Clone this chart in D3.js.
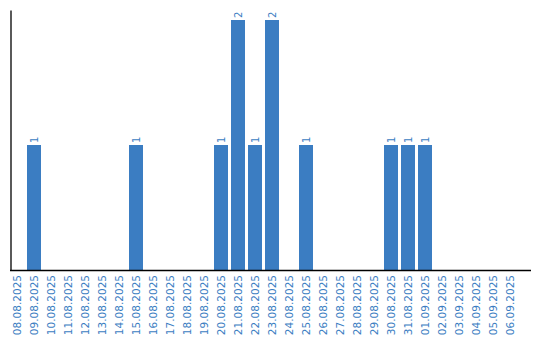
<!DOCTYPE html>
<html>
<head>
<meta charset="utf-8">
<script src="https://cdn.jsdelivr.net/npm/d3@7"></script>
<style>
  body { margin: 0; background: #fff; }
</style>
</head>
<body>
<div class="chart"></div>
<script>
const dims = { width: 540, height: 340 };
const margin = { top: 10, left: 10.5, bottom: 70, right: 9 };

// data
var days = ["08.08.2025","09.08.2025","10.08.2025","11.08.2025","12.08.2025","13.08.2025",
            "14.08.2025","15.08.2025","16.08.2025","17.08.2025","18.08.2025","19.08.2025",
            "20.08.2025","21.08.2025","22.08.2025","23.08.2025","24.08.2025","25.08.2025",
            "26.08.2025","27.08.2025","28.08.2025","29.08.2025","30.08.2025","31.08.2025",
            "01.09.2025","02.09.2025","03.09.2025","04.09.2025","05.09.2025","06.09.2025"];
var counts = [0,1,0,0,0,0, 0,1,0,0,0,0, 1,2,1,2,0,1, 0,0,0,0,1,1, 1,0,0,0,0,0];

const bar_color = '#3b7dc2';
const text_color = '#3b7dc2';

var svg = d3.select(".chart")
            .append("svg")
            .attr("width", dims.width)
            .attr("height", dims.height);

var x = d3.scaleBand().domain(days)
          .range([8.5, 518.5])
          .paddingInner(3/17)
          .paddingOuter(1.5/17);

var y = d3.scaleLinear().domain([0, 2.08])
          .range([dims.height - margin.bottom, margin.top]);

var data = days.map(function(d,i){ return {day: d, n: counts[i]}; });

// bars
svg.selectAll(".bar").data(data.filter(d => d.n > 0)).enter().append("rect")
   .attr("class", "bar")
   .attr("x", d => x(d.day))
   .attr("y", d => y(d.n))
   .attr("width", x.bandwidth())
   .attr("height", d => y(0) - y(d.n))
   .attr("fill", bar_color);

// value labels
svg.selectAll(".val").data(data.filter(d => d.n > 0)).enter().append("text")
   .attr("class", "val")
   .attr("transform", d => `translate(${x(d.day) + x.bandwidth()/2 + 3.5},${y(d.n) - 2}) rotate(-90)`)
   .attr("text-anchor", "start")
   .attr("font-family", "DejaVu Sans")
   .attr("font-size", "10px")
   .style("fill", text_color)
   .text(d => d.n);

// x axis
const x_axis = svg.append("g")
   .attr("transform", `translate(0,${y(0)})`)
   .call(d3.axisBottom(x).tickSize(0).tickSizeOuter(0));
x_axis.select(".domain").attr("d", `M${margin.left - 0.5},0.5H${dims.width - margin.right}`)
   .attr("stroke", "#000").attr("stroke-width", 1.3);
x_axis.selectAll(".tick text")
   .attr("transform", "rotate(-90)")
   .attr("text-anchor", "end")
   .attr("x", -5)
   .attr("y", 0)
   .attr("dy", "0.35em")
   .attr("font-family", "DejaVu Sans")
   .attr("font-size", "10.5px")
   .style("fill", text_color);

// y axis (line only)
const y_axis = svg.append("g")
   .attr("transform", `translate(${margin.left},0)`)
   .call(d3.axisLeft(y).tickValues([]).tickSizeOuter(0));
y_axis.select(".domain").attr("stroke", "#000").attr("stroke-width", 1.3);
</script>
</body>
</html>
